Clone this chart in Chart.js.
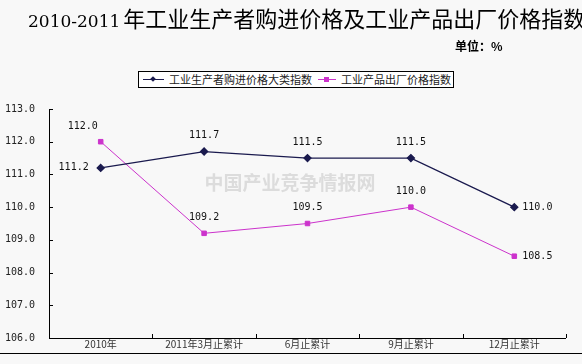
<!DOCTYPE html>
<html>
<head>
<meta charset="utf-8">
<script src="https://cdn.jsdelivr.net/npm/chart.js@4/dist/chart.umd.min.js"></script>
<style>
  body { margin: 0; background: #f8f8f8; }
  #wrap { position: relative; width: 582px; height: 364px; overflow: hidden; background: #f8f8f8; }
  #title { position: absolute; left: 28px; top: 1px; white-space: nowrap; font: 22px "Noto Sans CJK SC"; color: #000; }
  #title span { font: 17px "DejaVu Serif"; margin-right: 3px; }
  #unit { position: absolute; left: 455px; top: 37px; font: bold 12px "Noto Sans CJK SC"; color: #000; }
  #legend { position: absolute; left: 138px; top: 71px; width: 314px; height: 15px; border: 1px solid #000; background: #fff;
            font: 11px "Noto Sans CJK SC"; color: #222; white-space: nowrap; }
  #legend i { position: absolute; top: 7px; height: 1px; }
  #legend b { position: absolute; }
  #legend em { position: absolute; top: -1px; font-style: normal; line-height: 16px; }
  canvas { position: absolute; left: 0; top: 0; }
</style>
</head>
<body>
<div id="wrap">
  <canvas id="c" width="582" height="364"></canvas>
  <div id="title"><span>2010-2011</span>年工业生产者购进价格及工业产品出厂价格指数</div>
  <div id="unit">单位：%</div>
  <div id="legend">
    <i style="left:4px;width:21px;background:#1a1a4e"></i>
    <b style="left:12px;top:5px;width:4px;height:4px;background:#1a1a4e;transform:rotate(45deg)"></b>
    <em style="left:30px">工业生产者购进价格大类指数</em>
    <i style="left:179px;width:18px;background:#cc33cc"></i>
    <b style="left:185px;top:5px;width:5px;height:5px;background:#cc33cc"></b>
    <em style="left:202px">工业产品出厂价格指数</em>
  </div>
</div>
<script>
const categories = ["2010年", "2011年3月止累计", "6月止累计", "9月止累计", "12月止累计"];
const purchaseIndex = [111.2, 111.7, 111.5, 111.5, 110.0];
const factoryIndex = [112.0, 109.2, 109.5, 110.0, 108.5];
const yTicks = [106, 107, 108, 109, 110, 111, 112, 113];

// where each value label sits relative to its point
const purchasePos = ["left", "top", "top", "top", "right"];
const factoryPos = ["topleft", "top", "top", "top", "right"];

const decor = {
  id: 'decor',
  beforeDraw(chart) {
    const ctx = chart.ctx;
    ctx.save();
    ctx.fillStyle = '#f8f8f8';
    ctx.fillRect(0, 0, chart.width, chart.height);
    ctx.restore();
  },
  beforeDatasetsDraw(chart) {
    const ctx = chart.ctx, a = chart.chartArea;
    const x = chart.scales.x, y = chart.scales.y;
    ctx.save();
    // watermark
    ctx.font = 'bold 19px "Noto Sans CJK SC"';
    ctx.fillStyle = '#dcdcdc';
    ctx.textAlign = 'center';
    ctx.textBaseline = 'middle';
    ctx.fillText('中国产业竞争情报网', 290, 183);
    // axes
    ctx.strokeStyle = '#000';
    ctx.lineWidth = 1;
    ctx.beginPath();
    ctx.moveTo(a.left + 0.5, a.top);
    ctx.lineTo(a.left + 0.5, a.bottom + 0.5);
    ctx.lineTo(a.right, a.bottom + 0.5);
    // y ticks inward
    yTicks.forEach(v => {
      const py = Math.round(y.getPixelForValue(v)) + 0.5;
      ctx.moveTo(a.left, py);
      ctx.lineTo(a.left + 4, py);
    });
    // x ticks at category boundaries, pointing up
    for (let i = 0; i < categories.length; i++) {
      const px = Math.round(x.getPixelForValue(i) + (x.getPixelForValue(1) - x.getPixelForValue(0)) / 2) + 0.5;
      ctx.moveTo(px, a.bottom);
      ctx.lineTo(px, a.bottom - 4);
    }
    ctx.stroke();
    // bottom frame line
    ctx.beginPath();
    ctx.moveTo(0, 353.5);
    ctx.lineTo(chart.width, 353.5);
    ctx.stroke();
    ctx.restore();
  },
  afterDatasetsDraw(chart) {
    const ctx = chart.ctx;
    ctx.save();
    ctx.font = '10px "DejaVu Sans Mono"';
    ctx.fillStyle = '#111';
    ctx.textBaseline = 'middle';
    [[0, purchasePos], [1, factoryPos]].forEach(([di, pos]) => {
      const meta = chart.getDatasetMeta(di);
      meta.data.forEach((pt, i) => {
        const txt = chart.data.datasets[di].data[i].toFixed(1);
        const p = pos[i];
        if (p === 'left') { ctx.textAlign = 'right'; ctx.fillText(txt, pt.x - 12, pt.y); }
        else if (p === 'right') { ctx.textAlign = 'left'; ctx.fillText(txt, pt.x + 8, pt.y); }
        else if (p === 'topleft') { ctx.textAlign = 'center'; ctx.fillText(txt, pt.x - 18, pt.y - 15); }
        else { ctx.textAlign = 'center'; ctx.fillText(txt, pt.x, pt.y - 16); }
      });
    });
    ctx.restore();
  }
};

new Chart(document.getElementById('c'), {
  type: 'line',
  data: {
    labels: categories,
    datasets: [{
      label: '工业生产者购进价格大类指数',
      data: purchaseIndex,
      borderColor: '#1a1a4e',
      backgroundColor: '#1a1a4e',
      borderWidth: 1.3,
      pointStyle: 'rectRot',
      pointRadius: 3.5,
      tension: 0
    }, {
      label: '工业产品出厂价格指数',
      data: factoryIndex,
      borderColor: '#cc33cc',
      backgroundColor: '#cc33cc',
      borderWidth: 1,
      pointStyle: 'rect',
      pointRadius: 3.2,
      tension: 0
    }]
  },
  options: {
    responsive: false,
    animation: false,
    layout: { padding: { top: 109, right: 16, left: 0, bottom: 0 } },
    plugins: { legend: { display: false }, tooltip: { enabled: false } },
    scales: {
      x: {
        offset: true,
        grid: { display: false, drawTicks: false },
        border: { display: false },
        ticks: { color: '#333', font: { size: 10, family: '"Noto Sans CJK SC"' }, padding: 0, maxRotation: 0 },
        afterFit(s) { s.height = 26; }
      },
      y: {
        min: 106, max: 113,
        afterBuildTicks(s) { s.ticks = yTicks.map(v => ({ value: v })); },
        grid: { display: false, drawTicks: false },
        border: { display: false },
        ticks: { color: '#222', font: { size: 10, family: '"DejaVu Sans Mono"' }, padding: 14,
                 callback: v => v.toFixed(1) },
        afterFit(s) { s.width = 49; }
      }
    }
  },
  plugins: [decor]
});
</script>
</body>
</html>
